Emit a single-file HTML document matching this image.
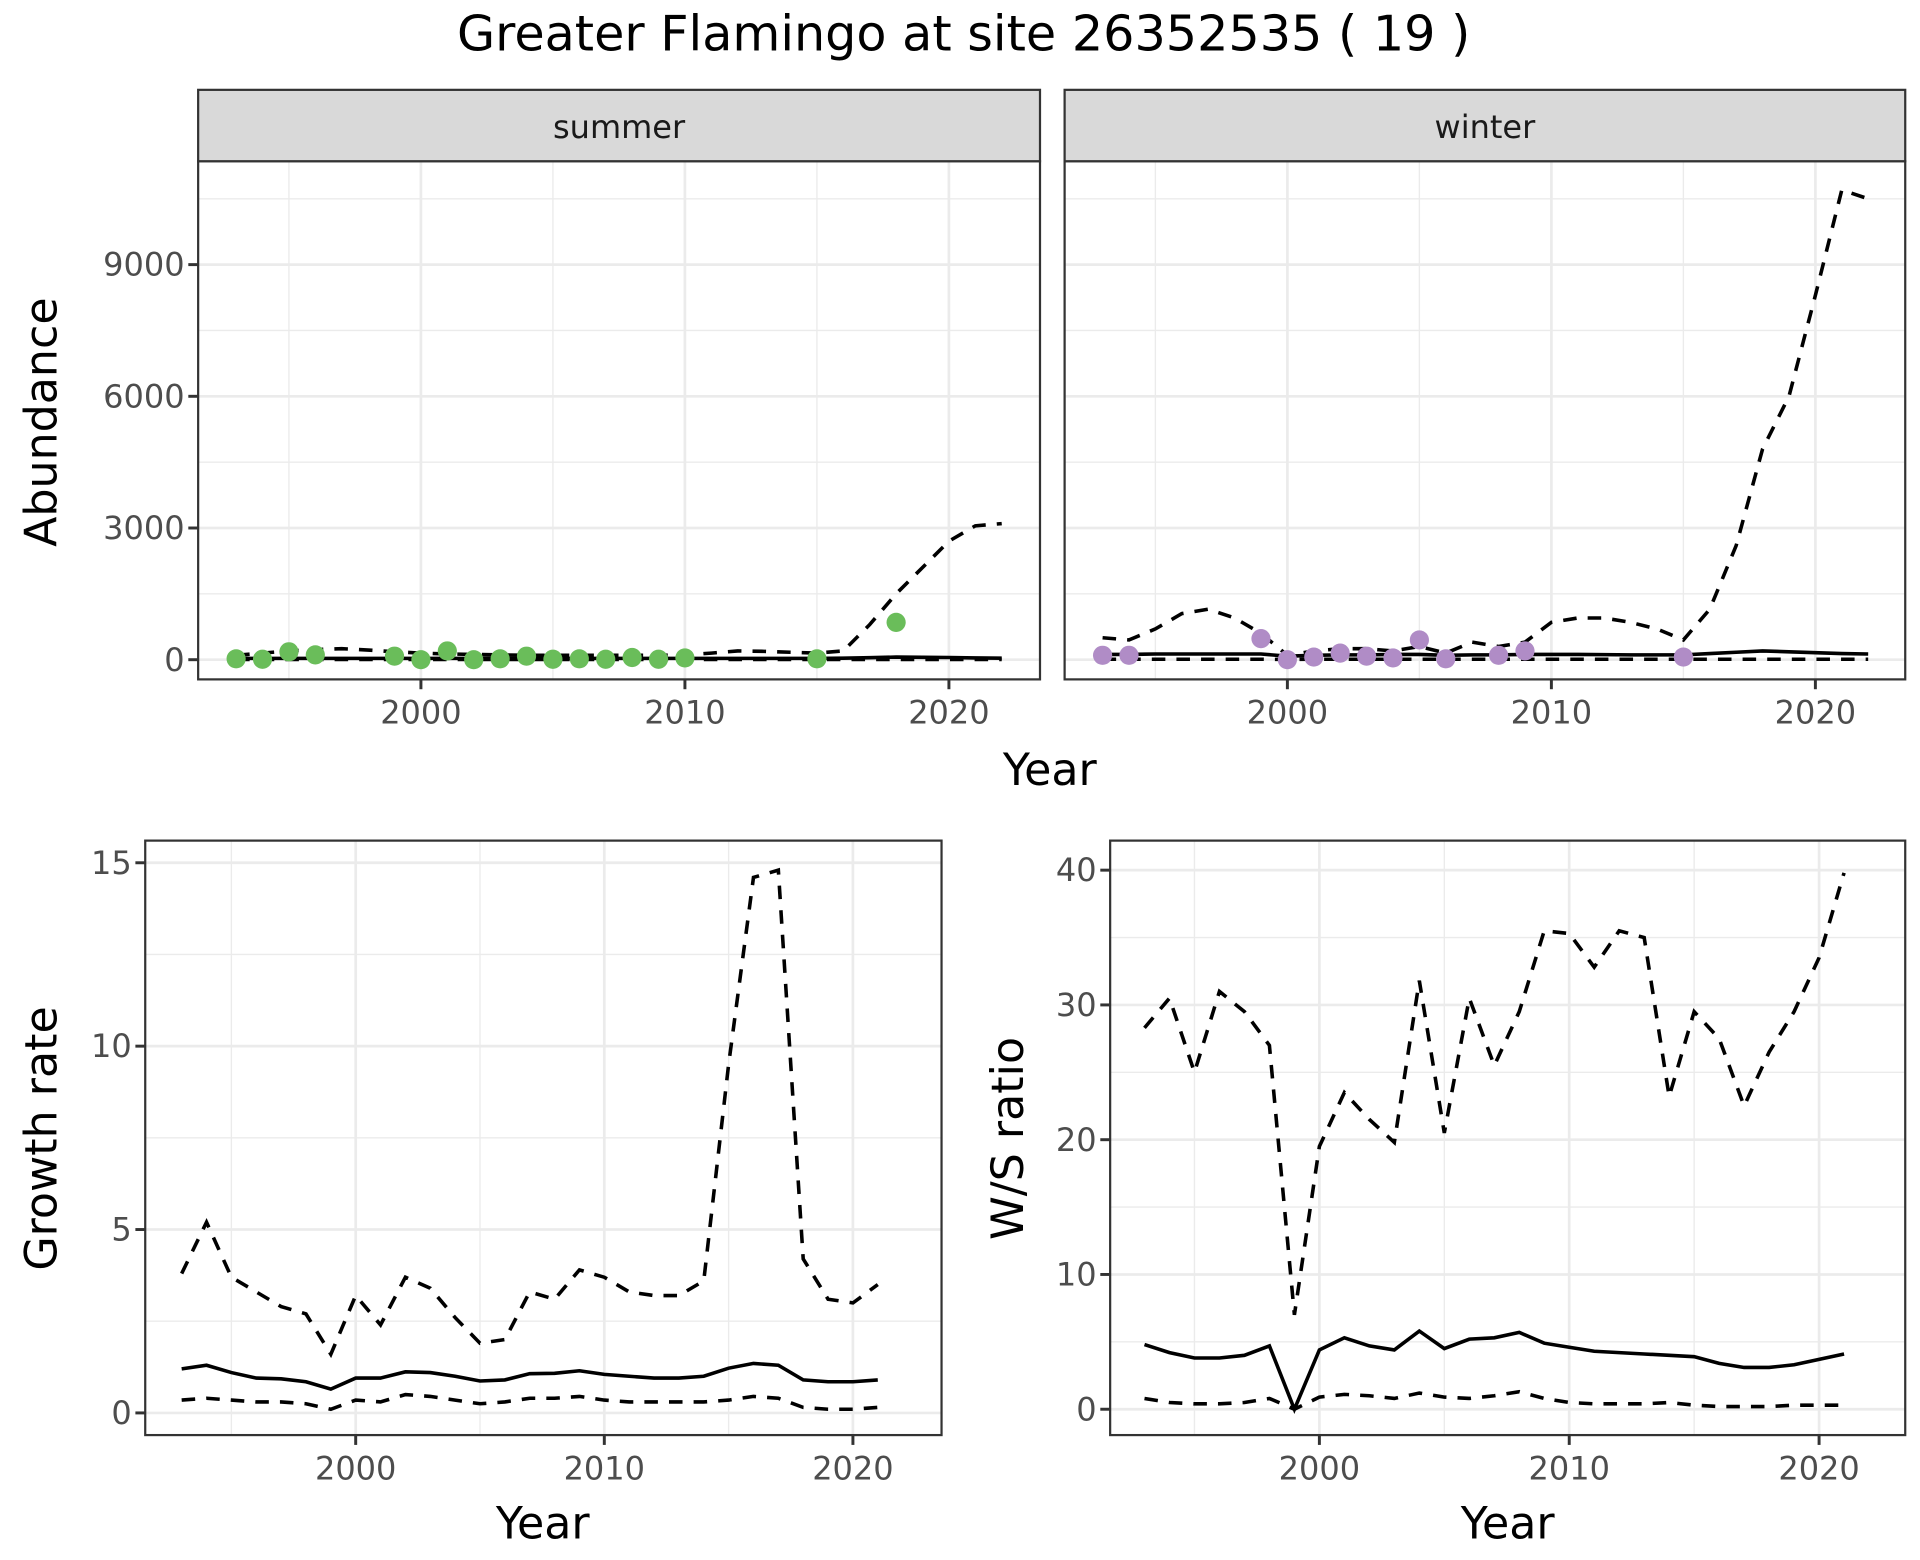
<!DOCTYPE html>
<html><head><meta charset="utf-8"><style>
html,body{margin:0;padding:0;background:#fff;}
svg{display:block;font-family:"DejaVu Sans","Liberation Sans",sans-serif;}
</style></head><body>
<svg id="chart" width="1920" height="1560" viewBox="0 0 1560 1267.5" xmlns="http://www.w3.org/2000/svg">
<text x="783" y="41" font-size="40" text-anchor="middle" fill="#000">Greater Flamingo at site 26352535 ( 19 )</text>
</svg>
<script>
const yearsAll = [1993,1994,1995,1996,1997,1998,1999,2000,2001,2002,2003,2004,2005,2006,2007,2008,2009,2010,2011,2012,2013,2014,2015,2016,2017,2018,2019,2020,2021,2022];
const summerPtYears = [1993,1994,1995,1996,1999,2000,2001,2002,2003,2004,2005,2006,2007,2008,2009,2010,2015,2018];
const summerPtVals = [20,10,180,110,80,0,200,0,20,80,10,20,10,50,10,40,20,850];
const summerMid = [30,30,30,30,30,30,30,30,30,30,30,30,30,30,30,30,30,30,30,30,30,30,30,35,45,60,55,50,40,35];
const summerUp = [100,150,200,230,250,220,180,150,130,120,110,100,100,100,100,100,100,110,150,200,190,170,150,200,800,1500,2100,2700,3050,3100];
const summerLo = [5,5,5,5,5,5,5,5,5,5,5,5,5,5,5,5,5,5,5,5,5,5,5,5,5,5,5,5,5,5];
const winterPtYears = [1993,1994,1999,2000,2001,2002,2003,2004,2005,2006,2008,2009,2015];
const winterPtVals = [100,100,480,0,60,150,80,40,450,20,100,200,60];
const winterMid = [120,120,130,130,130,130,130,80,100,110,110,120,120,100,110,110,120,120,120,115,110,110,110,140,170,200,180,160,140,130];
const winterUp = [500,450,700,1050,1150,950,600,100,200,250,250,200,300,150,400,300,400,850,950,950,850,700,450,1150,2600,4800,6000,8300,10700,10500];
const winterLo = [10,10,10,10,10,10,10,5,10,10,10,10,10,10,10,10,10,10,10,10,10,10,10,10,10,10,10,10,10,10];
const grYears = yearsAll.slice(0,29);
const grMid = [1.2,1.3,1.1,0.95,0.93,0.85,0.65,0.95,0.95,1.12,1.1,1.0,0.87,0.9,1.07,1.08,1.15,1.05,1.0,0.95,0.95,1.0,1.22,1.35,1.3,0.9,0.85,0.85,0.9];
const grUp = [3.8,5.2,3.7,3.3,2.9,2.7,1.6,3.2,2.4,3.7,3.4,2.6,1.9,2.0,3.3,3.1,3.9,3.7,3.3,3.2,3.2,3.6,9.5,14.6,14.8,4.2,3.1,3.0,3.5];
const grLo = [0.35,0.4,0.35,0.3,0.3,0.25,0.1,0.35,0.3,0.5,0.45,0.35,0.25,0.3,0.4,0.4,0.45,0.35,0.3,0.3,0.3,0.3,0.35,0.45,0.4,0.15,0.1,0.1,0.15];
const wsMid = [4.8,4.2,3.8,3.8,4.0,4.7,0,4.4,5.3,4.7,4.4,5.8,4.5,5.2,5.3,5.7,4.9,4.6,4.3,4.2,4.1,4.0,3.9,3.4,3.1,3.1,3.3,3.7,4.1];
const wsUp = [28.3,30.5,25,31,29.5,27,7,19.5,23.5,21.5,19.8,31.8,20.5,30.5,25.5,29.5,35.5,35.3,32.8,35.5,35,23.2,29.5,27.5,22.5,26.5,29.5,33.5,39.8];
const wsLo = [0.8,0.5,0.4,0.4,0.5,0.8,0,0.9,1.1,1.0,0.8,1.2,0.9,0.8,1.0,1.3,0.8,0.5,0.4,0.4,0.4,0.5,0.3,0.2,0.2,0.2,0.3,0.3,0.3];
const xTicks = [2000,2010,2020];
const abTicks = [0,3000,6000,9000];
const grTicks = [0,5,10,15];
const wsTicks = [0,10,20,30,40];

const NS="http://www.w3.org/2000/svg";
const svg=document.getElementById('chart');
function mk(tag,attrs,parent){const e=document.createElementNS(NS,tag);for(const k in attrs)e.setAttribute(k,attrs[k]);(parent||svg).appendChild(e);return e;}
function lin(d0,d1,r0,r1){return v=>r0+(v-d0)/(d1-d0)*(r1-r0);}

function panel(o){
  const g=mk('g',{});
  
  
  const {x0,x1,y0,y1}=o;
  const xs=lin(o.xd[0],o.xd[1],o.xr[0],o.xr[1]);
  const ys=lin(o.yd[0],o.yd[1],o.yr[0],o.yr[1]);
  mk('rect',{x:x0,y:y0,width:x1-x0,height:y1-y0,fill:'#fff'},g);
  for(let i=0;i<xTicks.length+1;i++){const v=xTicks[0]-5+10*i;const px=xs(v);if(px>x0&&px<x1)mk('line',{x1:px,x2:px,y1:y0,y2:y1,stroke:'#ebebeb','stroke-width':1.1},g);}
  for(let i=0;i<o.yt.length;i++){const v=o.yt[i]+(o.yt[1]-o.yt[0])/2;const py=ys(v);if(py>y0&&py<y1)mk('line',{x1:x0,x2:x1,y1:py,y2:py,stroke:'#ebebeb','stroke-width':1.1},g);}
  const vm=o.yt[0]-(o.yt[1]-o.yt[0])/2;if(ys(vm)<y1)mk('line',{x1:x0,x2:x1,y1:ys(vm),y2:ys(vm),stroke:'#ebebeb','stroke-width':1.1},g);
  xTicks.forEach(v=>{const px=xs(v);mk('line',{x1:px,x2:px,y1:y0,y2:y1,stroke:'#ebebeb','stroke-width':2.2},g);});
  o.yt.forEach(v=>{const py=ys(v);mk('line',{x1:x0,x2:x1,y1:py,y2:py,stroke:'#ebebeb','stroke-width':2.2},g);});
  const line=(xsArr,vals,dash,nm)=>{const d=vals.map((v,i)=>(i?'L':'M')+xs(xsArr[i]).toFixed(2)+','+ys(v).toFixed(2)).join(' ');const p=mk('path',{d:d,fill:'none',stroke:'#000','stroke-width':2.9,'stroke-dasharray':dash?'11,9':'none'},g);
    
    };
  line(o.lx,o.up,true,'upper-bound-line');
  line(o.lx,o.lo,true,'lower-bound-line');
  line(o.lx,o.mid,false,'trend-line');
  if(o.px){o.px.forEach((yv,i)=>{const c=mk('circle',{cx:xs(yv),cy:ys(o.pv[i]),r:7.8,fill:o.col},g);
    
    });}
  mk('rect',{x:x0,y:y0,width:x1-x0,height:y1-y0,fill:'none',stroke:'#333','stroke-width':1.8},g);
  if(o.showY){o.yt.forEach(v=>{const py=ys(v);mk('line',{x1:x0-8,x2:x0,y1:py,y2:py,stroke:'#333','stroke-width':2.4},g);
    const t=mk('text',{x:x0-11,y:py+9,'font-size':26,'text-anchor':'end',fill:'#4d4d4d'},g);t.textContent=v;
    
    });}
  xTicks.forEach(v=>{const px=xs(v);mk('line',{x1:px,x2:px,y1:y1,y2:y1+8,stroke:'#333','stroke-width':2.4},g);
    const t=mk('text',{x:px,y:y1+36,'font-size':26,'text-anchor':'middle',fill:'#4d4d4d'},g);t.textContent=v;
    
    });
  if(o.strip){const s=mk('rect',{x:x0,y:73,width:x1-x0,height:y0-73,fill:'#d9d9d9',stroke:'#333','stroke-width':1.8},g);
    
    
    const t=mk('text',{x:(x0+x1)/2,y:112,'font-size':26,'text-anchor':'middle',fill:'#1a1a1a'},g);t.textContent=o.strip;
    
    }
}
panel({name:'summer-panel',x0:161,x1:845,y0:131,y1:552,xd:[2000,2020],xr:[342,771],yd:[0,3000],yr:[536,429],yt:abTicks,lx:yearsAll,mid:summerMid,up:summerUp,lo:summerLo,px:summerPtYears,pv:summerPtVals,col:'#6abd5a',showY:true,strip:'summer'});
panel({name:'winter-panel',x0:865,x1:1548,y0:131,y1:552,xd:[2000,2020],xr:[1046,1475],yd:[0,3000],yr:[536,429],yt:abTicks,lx:yearsAll,mid:winterMid,up:winterUp,lo:winterLo,px:winterPtYears,pv:winterPtVals,col:'#b08cc6',showY:false,strip:'winter'});
panel({name:'growth-rate-panel',x0:118,x1:765,y0:683,y1:1166,xd:[2000,2020],xr:[289,693],yd:[0,15],yr:[1148,701],yt:grTicks,lx:grYears,mid:grMid,up:grUp,lo:grLo,showY:true});
panel({name:'ws-ratio-panel',x0:902,x1:1548,y0:683,y1:1166,xd:[2000,2020],xr:[1072,1478],yd:[0,40],yr:[1145,707],yt:wsTicks,lx:grYears,mid:wsMid,up:wsUp,lo:wsLo,showY:true});
function label(txt,x,y,rot,nm){const t=mk('text',{x:x,y:y,'font-size':36,'text-anchor':'middle',fill:'#000',transform:rot?`rotate(-90 ${x} ${y})`:''});t.textContent=txt;
  
  }
label('Year',853,638,false,'x-axis-title-top');
label('Abundance',46,343,true,'y-axis-title-abundance');
label('Year',441,1250,false,'x-axis-title-growth');
label('Growth rate',46,925,true,'y-axis-title-growth');
label('Year',1225,1250,false,'x-axis-title-ratio');
label('W/S ratio',831,925,true,'y-axis-title-ratio');
</script>
</body></html>
